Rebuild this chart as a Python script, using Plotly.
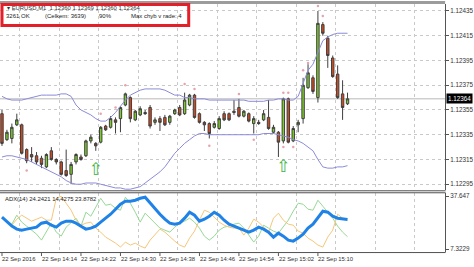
import plotly.graph_objects as go

W, H = 474, 267
PLOT_R = 447  # right edge of plotting area in px

# ---------------- data ----------------
tick_idx = [0, 8, 16, 24, 32, 40, 48, 56, 64]
tick_text = ["22 Sep 2016", "22 Sep 14:14", "22 Sep 14:22", "22 Sep 14:30", "22 Sep 14:38",
             "22 Sep 14:46", "22 Sep 14:54", "22 Sep 15:02", "22 Sep 15:10"]
price_ticks = [1.12295, 1.12315, 1.12335, 1.12355, 1.12375, 1.12395, 1.12415, 1.12435]
adx_ticks = [37.647, 7.3229]

open_ = [1.12352, 1.12331, 1.12332, 1.12343, 1.12343, 1.12323, 1.12319, 1.12318, 1.12316, 1.12309,
         1.12322, 1.12315, 1.12313, 1.12306, 1.12303, 1.12313, 1.12317, 1.12318, 1.12330, 1.12328,
         1.12329, 1.12342, 1.12341, 1.12347, 1.12348, 1.12359, 1.12365, 1.12347, 1.12351, 1.12353,
         1.12357, 1.12345, 1.12348, 1.12349, 1.12345, 1.12352, 1.12357, 1.12352, 1.12359, 1.12367,
         1.12352, 1.12345, 1.12344, 1.12341, 1.12340, 1.12352, 1.12352, 1.12354, 1.12357, 1.12350,
         1.12352, 1.12344, 1.12345, 1.12347, 1.12349, 1.12337, 1.12337, 1.12330, 1.12364, 1.12330,
         1.12343, 1.12348, 1.12373, 1.12381, 1.12365, 1.12424, 1.12413, 1.12397, 1.12384, 1.12368,
         1.12360]
high = [1.12355, 1.12339, 1.12344, 1.12352, 1.12344, 1.12324, 1.12325, 1.12321, 1.12318, 1.12320,
        1.12325, 1.12316, 1.12314, 1.12323, 1.12313, 1.12320, 1.12319, 1.12331, 1.12335, 1.12329,
        1.12342, 1.12343, 1.12350, 1.12349, 1.12358, 1.12369, 1.12366, 1.12355, 1.12358, 1.12355,
        1.12359, 1.12349, 1.12350, 1.12351, 1.12351, 1.12356, 1.12359, 1.12369, 1.12368, 1.12368,
        1.12353, 1.12346, 1.12345, 1.12346, 1.12350, 1.12354, 1.12353, 1.12363, 1.12364, 1.12355,
        1.12353, 1.12350, 1.12347, 1.12355, 1.12363, 1.12343, 1.12338, 1.12365, 1.12365, 1.12342,
        1.12347, 1.12381, 1.12392, 1.12383, 1.12435, 1.12426, 1.12415, 1.12399, 1.12391, 1.12379,
        1.12369]
low = [1.12326, 1.12330, 1.12328, 1.12342, 1.12319, 1.12312, 1.12313, 1.12311, 1.12308, 1.12308,
       1.12314, 1.12311, 1.12302, 1.12301, 1.12295, 1.12311, 1.12314, 1.12317, 1.12328, 1.12322,
       1.12328, 1.12338, 1.12340, 1.12336, 1.12337, 1.12358, 1.12345, 1.12346, 1.12350, 1.12351,
       1.12340, 1.12343, 1.12338, 1.12342, 1.12343, 1.12351, 1.12350, 1.12351, 1.12358, 1.12348,
       1.12344, 1.12338, 1.12332, 1.12340, 1.12339, 1.12346, 1.12346, 1.12351, 1.12349, 1.12349,
       1.12345, 1.12336, 1.12343, 1.12346, 1.12339, 1.12336, 1.12317, 1.12328, 1.12328, 1.12329,
       1.12337, 1.12344, 1.12372, 1.12368, 1.12361, 1.12415, 1.12389, 1.12381, 1.12364, 1.12347,
       1.12359]
close = [1.12328, 1.12337, 1.12341, 1.12347, 1.12320, 1.12314, 1.12317, 1.12313, 1.12311, 1.12319,
         1.12315, 1.12313, 1.12303, 1.12302, 1.12311, 1.12319, 1.12315, 1.12330, 1.12333, 1.12326,
         1.12341, 1.12339, 1.12348, 1.12345, 1.12357, 1.12368, 1.12348, 1.12354, 1.12356, 1.12352,
         1.12342, 1.12347, 1.12345, 1.12343, 1.12350, 1.12355, 1.12351, 1.12363, 1.12367, 1.12349,
         1.12345, 1.12343, 1.12336, 1.12344, 1.12348, 1.12347, 1.12347, 1.12353, 1.12350, 1.12354,
         1.12346, 1.12348, 1.12344, 1.12352, 1.12340, 1.12341, 1.12329, 1.12364, 1.12329, 1.12340,
         1.12345, 1.12375, 1.12385, 1.12370, 1.12425, 1.12417, 1.12399, 1.12382, 1.12365, 1.12357,
         1.12364]

bb_upper = [1.12366, 1.12364, 1.12363, 1.12363, 1.12363, 1.12364, 1.12365, 1.12366, 1.12367, 1.12367,
            1.12367, 1.12367, 1.12368, 1.12368, 1.12366, 1.12359, 1.12355, 1.12353, 1.12351, 1.12348,
            1.12346, 1.12346, 1.12349, 1.12353, 1.12358, 1.12363, 1.12367, 1.12369, 1.12371, 1.12372,
            1.12372, 1.12372, 1.12372, 1.12371, 1.12369, 1.12367, 1.12367, 1.12365, 1.12365, 1.12364,
            1.12364, 1.12364, 1.12363, 1.12363, 1.12363, 1.12363, 1.12363, 1.12363, 1.12363, 1.12363,
            1.12362, 1.12362, 1.12362, 1.12362, 1.12363, 1.12363, 1.12364, 1.12364, 1.12363, 1.12363,
            1.12366, 1.12377, 1.12387, 1.12392, 1.12401, 1.12411, 1.12414, 1.12416, 1.12417, 1.12417,
            1.12417]
bb_lower = [1.12317, 1.12318, 1.12318, 1.12317, 1.12316, 1.12315, 1.12313, 1.12311, 1.12309, 1.12307,
            1.12305, 1.12303, 1.12301, 1.12298, 1.12296, 1.12295, 1.12295, 1.12296, 1.12296, 1.12296,
            1.12295, 1.12294, 1.12293, 1.12292, 1.12292, 1.12291, 1.12291, 1.12292, 1.12293, 1.12296,
            1.12299, 1.12302, 1.12305, 1.12309, 1.12315, 1.12320, 1.12324, 1.12328, 1.12331, 1.12334,
            1.12336, 1.12336, 1.12335, 1.12335, 1.12335, 1.12335, 1.12335, 1.12335, 1.12335, 1.12335,
            1.12335, 1.12335, 1.12335, 1.12336, 1.12336, 1.12336, 1.12335, 1.12334, 1.12333, 1.12331,
            1.12330, 1.12328, 1.12325, 1.12322, 1.12315, 1.12309, 1.12308, 1.12308, 1.12309, 1.12309,
            1.12310]

adx = [25.63, 22.77, 20.48, 18.77, 18.19, 18.77, 19.34, 19.91, 22.20, 22.77,
       21.05, 19.91, 22.20, 23.34, 23.34, 22.20, 20.48, 18.77, 19.34, 20.48,
       22.77, 25.06, 27.35, 30.21, 33.07, 34.79, 34.79, 35.36, 36.50, 37.08,
       33.64, 30.78, 27.35, 24.49, 22.20, 21.63, 22.20, 25.06, 28.49, 26.78,
       23.34, 24.49, 26.20, 28.49, 26.78, 23.91, 21.63, 20.48, 19.34, 18.19,
       17.05, 18.19, 19.91, 18.77, 17.05, 14.19, 16.48, 14.76, 12.47, 11.90,
       13.61, 15.90, 19.34, 21.63, 25.63, 29.06, 28.49, 26.20, 25.06, 24.49,
       24.2421]
plus_di = [25.06, 23.34, 21.63, 26.78, 22.77, 20.48, 18.19, 15.90, 12.47, 17.05,
           22.20, 17.05, 14.76, 19.91, 22.77, 25.06, 20.48, 28.49, 26.20, 31.35,
           36.50, 32.50, 33.07, 30.78, 29.64, 37.08, 33.64, 28.49, 22.77, 27.92,
           25.06, 21.63, 19.34, 18.19, 17.05, 19.91, 22.20, 23.34, 25.06, 22.77,
           19.34, 14.76, 12.47, 14.76, 18.19, 19.91, 20.48, 21.63, 22.20, 19.34,
           15.33, 11.33, 14.76, 21.05, 19.34, 17.62, 16.48, 19.91, 23.91, 29.06,
           33.64, 33.07, 30.21, 29.64, 35.36, 31.92, 28.49, 25.06, 20.48, 17.05,
           14.4275]
minus_di = [25.06, 22.77, 21.05, 24.49, 26.78, 25.06, 23.34, 24.49, 25.63, 23.91,
            23.91, 36.50, 37.65, 33.64, 29.64, 23.91, 21.05, 22.20, 22.77, 19.34,
            17.05, 14.19, 12.47, 10.75, 8.47, 11.33, 9.61, 10.75, 9.04, 7.89,
            12.47, 15.33, 18.77, 17.05, 14.19, 11.90, 9.61, 8.47, 13.61, 17.62,
            23.91, 29.64, 28.49, 25.63, 22.77, 21.05, 19.91, 19.34, 19.34, 15.33,
            19.34, 24.49, 22.77, 19.91, 17.05, 25.06, 27.92, 23.91, 21.63, 21.05,
            17.62, 16.48, 13.61, 11.90, 9.61, 8.47, 14.19, 18.19, 27.35, 25.06,
            23.8782]

signal_idx = [19, 57]
signal_price = [1.12306, 1.12308]

fractal_idx = [5, 20, 23, 25, 37, 39, 48, 42, 51, 57, 58, 57, 59, 61, 62, 64, 65]
fractal_price = [1.12306, 1.12352, 1.12357, 1.12375, 1.12376, 1.12372, 1.12368, 1.12326, 1.12331,
                 1.12369, 1.12369, 1.12325, 1.12325, 1.12387, 1.12393, 1.12439, 1.12431]

header_ohlc = "EURUSD,M1  1.12360 1.12369 1.12360 1.12364"
status_items = ["3261 OK", "(Celkem: 3639)", "90%", "Max chyb v rade: 4"]
adx_label = "ADX(14) 24.2421 14.4275 23.8782"

# ---------------- figure ----------------
x = list(range(len(open_)))
FONT = "Liberation Sans"
FS = 6.3
FSX = 5.9
GRID = "#c9c9c9"

fig = go.Figure()

fig.add_trace(go.Candlestick(
    x=x, open=open_, high=high, low=low, close=close,
    increasing=dict(fillcolor="#7ccc2a", line=dict(color="#3f3f3f", width=1)),
    decreasing=dict(fillcolor="#cd4a1f", line=dict(color="#3f3f3f", width=1)),
    whiskerwidth=0, hoverinfo="skip", showlegend=False, xaxis="x", yaxis="y"))

for band in (bb_upper, bb_lower):
    fig.add_trace(go.Scatter(x=x, y=band, mode="lines", line=dict(color="#8b8bd9", width=1),
                             hoverinfo="skip", showlegend=False, xaxis="x", yaxis="y"))

fig.add_trace(go.Scatter(x=fractal_idx, y=fractal_price, mode="markers",
                         marker=dict(size=2.5, color="#e6a3ad"), hoverinfo="skip",
                         showlegend=False, xaxis="x", yaxis="y"))

fig.add_trace(go.Scatter(x=signal_idx, y=signal_price, mode="text", text=["⇧"] * len(signal_idx),
                         textfont=dict(size=17, color="#41b441", family="DejaVu Sans"),
                         textposition="middle center", hoverinfo="skip", showlegend=False,
                         xaxis="x", yaxis="y"))

fig.add_trace(go.Scatter(x=x, y=plus_di, mode="lines", line=dict(color="#96d996", width=1),
                         hoverinfo="skip", showlegend=False, xaxis="x2", yaxis="y2"))
fig.add_trace(go.Scatter(x=x, y=minus_di, mode="lines", line=dict(color="#f6c67a", width=1),
                         hoverinfo="skip", showlegend=False, xaxis="x2", yaxis="y2"))
fig.add_trace(go.Scatter(x=x, y=adx, mode="lines", line=dict(color="#1f82e6", width=3),
                         hoverinfo="skip", showlegend=False, xaxis="x2", yaxis="y2"))

grid_idx = [3.6 + 8 * k for k in range(11)]
xr = [-0.403, 89.77]
xcommon = dict(domain=[0, PLOT_R / W], range=xr, tickvals=grid_idx, showticklabels=False,
               ticks="", showgrid=True, gridcolor=GRID, griddash="dot", gridwidth=1,
               zeroline=False, showline=False, fixedrange=True)

def py(pix):
    return 1 - pix / H

def px(pix):
    return pix / W

fig.update_layout(
    width=W, height=H, margin=dict(l=0, r=0, t=0, b=0),
    paper_bgcolor="white", plot_bgcolor="white", showlegend=False,
    font=dict(family=FONT, size=FS, color="#222222"),
    xaxis=dict(**xcommon, anchor="y", rangeslider=dict(visible=False)),
    xaxis2=dict(**xcommon, anchor="y2", matches="x"),
    yaxis=dict(domain=[py(190), py(3)], range=[1.122901, 1.1244064], side="right",
               tickvals=price_ticks, ticktext=[f"{p:.5f}" for p in price_ticks],
               ticks="outside", ticklen=3, tickcolor="#555555",
               tickfont=dict(size=FS, color="#333333", family=FONT),
               showgrid=True, gridcolor=GRID, griddash="dot", gridwidth=1,
               showline=True, linecolor="#555555", linewidth=1, zeroline=False, anchor="x"),
    yaxis2=dict(domain=[py(252), py(193)], range=[5.606, 39.363], side="right",
                tickvals=adx_ticks, ticktext=["37.647", "7.3229"],
                ticks="outside", ticklen=3, tickcolor="#555555",
                tickfont=dict(size=FS, color="#333333", family=FONT),
                showgrid=False, showline=True, linecolor="#555555", linewidth=1,
                zeroline=False, anchor="x2"),
)

shapes = []
# top gray band
shapes.append(dict(type="rect", xref="paper", yref="paper", x0=0, x1=px(PLOT_R), y0=py(3), y1=1,
                   fillcolor="#9c9c9c", line=dict(width=0), layer="above"))
# panel borders
for yy in (190.5, 192.5, 252.5):
    shapes.append(dict(type="line", xref="paper", yref="paper", x0=0, x1=px(PLOT_R + 0.5),
                       y0=py(yy), y1=py(yy), line=dict(color="#505050", width=1)))
# bid line
shapes.append(dict(type="line", xref="paper", yref="y", x0=0, x1=px(PLOT_R), y0=close[-1],
                   y1=close[-1], line=dict(color="#b8b8b8", width=1), layer="below"))
# time-axis tick marks
for ti in tick_idx:
    shapes.append(dict(type="line", xref="x2", yref="paper", x0=ti, x1=ti, y0=py(253), y1=py(256),
                       line=dict(color="#555555", width=1)))
# red status box
shapes.append(dict(type="rect", xref="paper", yref="paper", x0=px(2), x1=px(189.5), y0=py(24.5),
                   y1=py(3.5), line=dict(color="#e3202a", width=3), fillcolor="rgba(0,0,0,0)",
                   layer="above"))
fig.update_layout(shapes=shapes)

ann = []
for ti, tt in zip(tick_idx, tick_text):
    ann.append(dict(x=ti - 0.35, xref="x2", y=py(258.5), yref="paper", text=tt, showarrow=False,
                    xanchor="left", yanchor="middle", font=dict(size=FSX, color="#333333")))
ann.append(dict(x=px(448), xref="paper", y=close[-1], yref="y", text=f"{close[-1]:.5f}",
                showarrow=False, xanchor="left", yanchor="middle", bgcolor="#000000",
                borderpad=1, font=dict(size=FS, color="white")))
ann.append(dict(x=px(3), xref="paper", y=py(199), yref="paper", text=adx_label, showarrow=False,
                xanchor="left", yanchor="middle", font=dict(size=FSX, color="#222222")))
ann.append(dict(x=px(5), xref="paper", y=py(7), yref="paper", text="▾ " + header_ohlc,
                showarrow=False, xanchor="left", yanchor="middle", font=dict(size=FSX, color="#333333")))
for xp, t in zip([4, 43, 97, 130], status_items):
    ann.append(dict(x=px(xp), xref="paper", y=py(15.5), yref="paper", text=t, showarrow=False,
                    xanchor="left", yanchor="middle", font=dict(size=6.0, color="#222222")))
fig.update_layout(annotations=ann)

fig.write_html("out.html")
